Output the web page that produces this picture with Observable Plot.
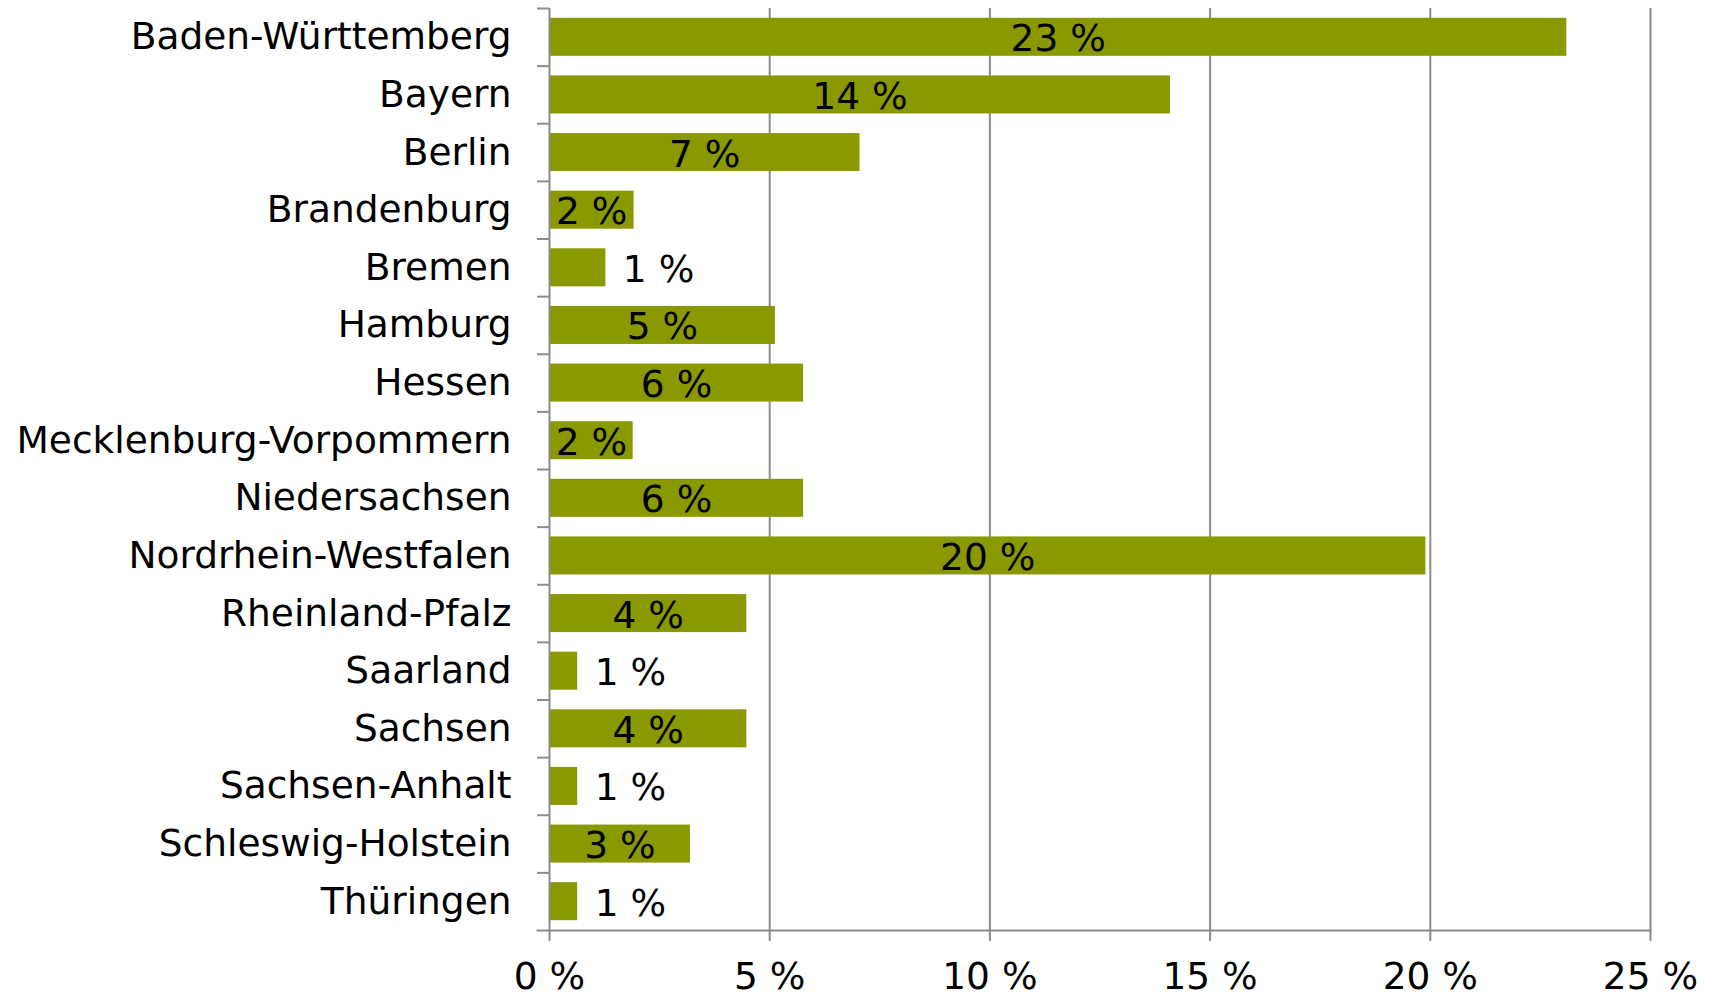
<!DOCTYPE html>
<html>
<head>
<meta charset="utf-8">
<script src="https://cdn.jsdelivr.net/npm/d3@7"></script>
<script src="https://cdn.jsdelivr.net/npm/@observablehq/plot@0.6"></script>
<style>
  html, body { margin: 0; padding: 0; background: #fff; }
  #chart svg { display: block; }
</style>
</head>
<body>
<div id="chart"></div>
<script>
const categories = [
  "Baden-Württemberg", "Bayern", "Berlin", "Brandenburg", "Bremen", "Hamburg",
  "Hessen", "Mecklenburg-Vorpommern", "Niedersachsen", "Nordrhein-Westfalen",
  "Rheinland-Pfalz", "Saarland", "Sachsen", "Sachsen-Anhalt",
  "Schleswig-Holstein", "Thüringen"
];
const values = [23.1, 14.1, 7.05, 1.92, 1.28, 5.13, 5.77, 1.9, 5.77, 19.9, 4.48, 0.64, 4.48, 0.64, 3.2, 0.64];
const labels = ["23 %", "14 %", "7 %", "2 %", "1 %", "5 %", "6 %", "2 %", "6 %", "20 %", "4 %", "1 %", "4 %", "1 %", "3 %", "1 %"];
const xTicks = [0, 5, 10, 15, 20, 25];
const xTickLabels = ["0 %", "5 %", "10 %", "15 %", "20 %", "25 %"];

const data = categories.map((c, i) => ({ state: c, value: values[i], label: labels[i] }));
const inside = data.filter(d => d.value >= 1.5);
const outside = data.filter(d => d.value < 1.5);

const W = 1716, H = 997, mt = 8, mb = 67, ml = 549, mr = 66;
const step = (H - mt - mb) / categories.length;
const grey = "#8c8c8c";
const font = "DejaVu Sans, Verdana, sans-serif";
const fs = 37.5;

const chart = Plot.plot({
  width: W,
  height: H,
  marginTop: mt,
  marginBottom: mb,
  marginLeft: ml,
  marginRight: mr,
  style: { fontFamily: font, fontSize: fs + "px", color: "#000", background: "#fff" },
  x: { domain: [0, 25] },
  y: { domain: categories, paddingInner: 0.34, paddingOuter: 0.17, round: false },
  marks: [
    Plot.ruleX(xTicks.slice(1), { stroke: grey, strokeWidth: 2 }),
    Plot.barX(data, { y: "state", x: "value", fill: "#8b9900" }),
    Plot.ruleX([0], { stroke: grey, strokeWidth: 2 }),
    Plot.frame({ anchor: "bottom", stroke: grey, strokeWidth: 2, insetLeft: -12 }),
    Plot.axisX({ ticks: xTicks, tickFormat: d => xTickLabels[xTicks.indexOf(d)], tickSize: 11, tickPadding: 21, stroke: grey, strokeWidth: 2, fontSize: fs, label: null }),
    Plot.axisY({ tickSize: 12, tickFormat: () => "", dy: -step / 2, stroke: grey, strokeWidth: 2, label: null }),
    Plot.axisY({ tickSize: 0, tickPadding: 38, fontSize: fs, label: null }),
    Plot.text(inside, { y: "state", x: d => d.value / 2, text: "label", fill: "#000", fontSize: fs, dy: 2 }),
    Plot.text(outside, { y: "state", x: "value", text: "label", fill: "#000", fontSize: fs, dy: 2, dx: 17, textAnchor: "start" })
  ]
});
document.getElementById("chart").appendChild(chart);
</script>
</body>
</html>
